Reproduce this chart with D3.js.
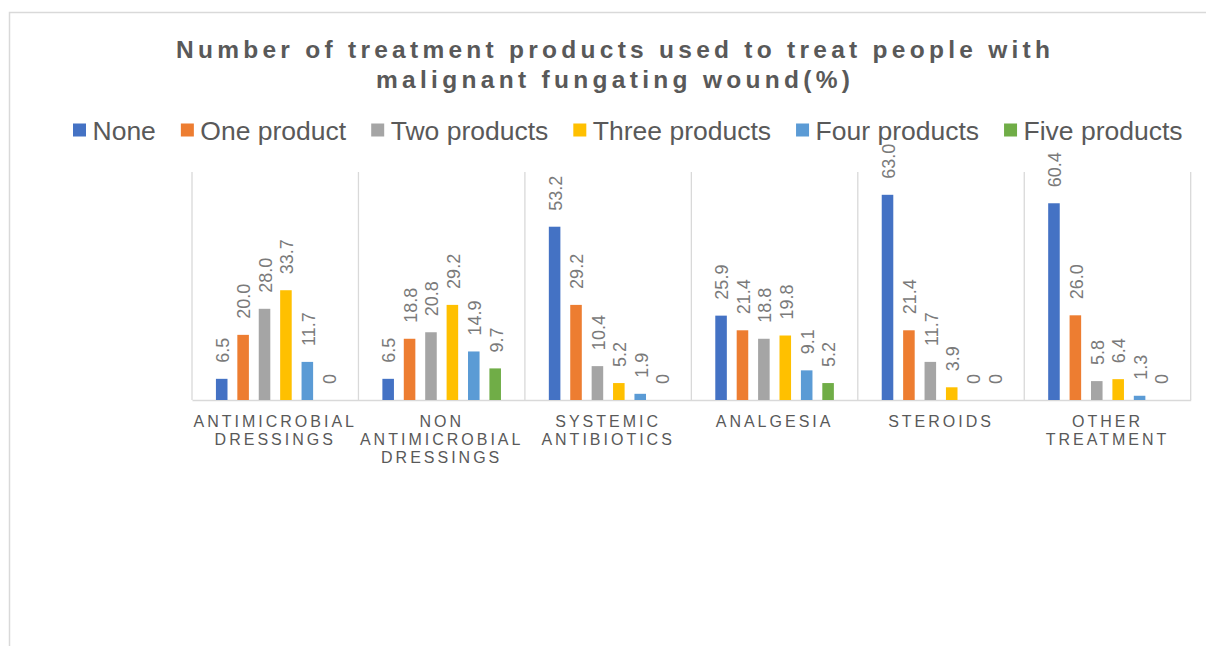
<!DOCTYPE html>
<html>
<head>
<meta charset="utf-8">
<script src="https://cdn.jsdelivr.net/npm/d3@7"></script>
<style>
  html, body { margin: 0; padding: 0; background: #ffffff; }
  svg { display: block; }
</style>
</head>
<body>
<svg id="chart" width="1206" height="646"></svg>
<script>
// ---------------- data ----------------
const titleLines = ["Number of treatment products used to treat people with", "malignant fungating wound(%)"];
const categories = ["ANTIMICROBIAL DRESSINGS", "NON ANTIMICROBIAL DRESSINGS", "SYSTEMIC ANTIBIOTICS", "ANALGESIA", "STEROIDS", "OTHER TREATMENT"];
const categoryLabelLines = [
  ["ANTIMICROBIAL", "DRESSINGS"],
  ["NON", "ANTIMICROBIAL", "DRESSINGS"],
  ["SYSTEMIC", "ANTIBIOTICS"],
  ["ANALGESIA"],
  ["STEROIDS"],
  ["OTHER", "TREATMENT"]
];
const seriesNames = ["None", "One product", "Two products", "Three products", "Four products", "Five products"];
const seriesColors = ["#4472C4", "#ED7D31", "#A5A5A5", "#FFC000", "#5B9BD5", "#70AD47"];
const noneValues  = [6.5, 6.5, 53.2, 25.9, 63.0, 60.4];
const oneValues   = [20.0, 18.8, 29.2, 21.4, 21.4, 26.0];
const twoValues   = [28.0, 20.8, 10.4, 18.8, 11.7, 5.8];
const threeValues = [33.7, 29.2, 5.2, 19.8, 3.9, 6.4];
const fourValues  = [11.7, 14.9, 1.9, 9.1, 0, 1.3];
const fiveValues  = [0, 9.7, 0, 5.2, 0, 0];
const yMax = 70;

const seriesValues = [noneValues, oneValues, twoValues, threeValues, fourValues, fiveValues];

// ---------------- layout ----------------
const svg = d3.select("#chart");
const plot = { left: 192, right: 1190.7, top: 172, bottom: 400 };
const grid = "#d9d9d9";
const FONT = "Liberation Sans, Arial, sans-serif";

svg.append("rect").attr("width", 1206).attr("height", 646).attr("fill", "#fff");

// chart area border (left & top visible)
svg.append("path")
  .attr("d", "M9.5,646 L9.5,12.5 L1206,12.5")
  .attr("fill", "none").attr("stroke", grid).attr("stroke-width", 1.5);

// title: each line spread to its measured span
const titleSpans = [{ y: 58, x0: 176, x1: 1050 }, { y: 88, x0: 376, x1: 850 }];
titleLines.forEach((t, i) => {
  const sp = titleSpans[i];
  const txt = svg.append("text")
    .attr("x", sp.x0).attr("y", sp.y)
    .attr("font-family", FONT)
    .attr("font-weight", "bold")
    .attr("font-size", 24.5)
    .attr("fill", "#595959")
    .text(t);
  const base = txt.node().getComputedTextLength();
  const ls = (sp.x1 - sp.x0 - base) / (t.length - 1);
  txt.attr("letter-spacing", ls);
});

// legend
let lx = 73;
seriesNames.forEach((name, i) => {
  svg.append("rect")
    .attr("x", lx).attr("y", 123.5).attr("width", 13).attr("height", 13)
    .attr("fill", seriesColors[i]);
  const t = svg.append("text")
    .attr("x", lx + 19.5).attr("y", 139.5)
    .attr("font-family", FONT)
    .attr("font-size", 26.5)
    .attr("fill", "#595959")
    .text(name);
  lx = lx + 19.5 + t.node().getComputedTextLength() + 25;
});

// scales
const x = d3.scaleBand().domain(categories).range([plot.left, plot.right]).padding(0);
const xInner = d3.scaleBand().domain(seriesNames).range([0, x.bandwidth()])
  .paddingInner(0.46).paddingOuter(1.118);
const y = d3.scaleLinear().domain([0, yMax]).range([plot.bottom, plot.top]);

// vertical gridlines at category boundaries
const bounds = categories.map(c => x(c)).concat([plot.right]);
svg.append("g").selectAll("line").data(bounds).join("line")
  .attr("x1", d => d).attr("x2", d => d)
  .attr("y1", y(yMax)).attr("y2", y(0))
  .attr("stroke", grid).attr("stroke-width", 1.3);

// baseline axis
const xAxis = d3.axisBottom(x).tickSize(0).tickFormat("");
const axG = svg.append("g").attr("transform", `translate(0,${y(0)})`).call(xAxis);
axG.select(".domain").attr("stroke", grid).attr("stroke-width", 1.5);

// category labels
categories.forEach((c, i) => {
  const cx = x(c) + x.bandwidth() / 2;
  const t = svg.append("text")
    .attr("text-anchor", "middle")
    .attr("font-family", FONT)
    .attr("font-size", 16)
    .attr("letter-spacing", 3)
    .attr("fill", "#595959");
  categoryLabelLines[i].forEach((ln, j) => {
    t.append("tspan").attr("x", cx).attr("y", 426.5 + j * 18.3).text(ln);
  });
});

// bars
const fmt = v => v === 0 ? "0" : v.toFixed(1);
seriesNames.forEach((s, si) => {
  const g = svg.append("g");
  const data = categories.map((c, ci) => ({ c, v: seriesValues[si][ci] }));
  g.selectAll("rect").data(data).join("rect")
    .attr("x", d => x(d.c) + xInner(s))
    .attr("y", d => y(d.v))
    .attr("width", xInner.bandwidth())
    .attr("height", d => y(0) - y(d.v))
    .attr("fill", seriesColors[si]);
  g.selectAll("text").data(data).join("text")
    .attr("transform", d => {
      const cx = x(d.c) + xInner(s) + xInner.bandwidth() / 2 + 1;
      const cy = y(d.v) - 16;
      return `translate(${cx},${cy}) rotate(-90)`;
    })
    .attr("dy", "0.35em")
    .attr("text-anchor", "start")
    .attr("font-family", FONT)
    .attr("font-size", 18)
    .attr("fill", "#7a7a7a")
    .text(d => fmt(d.v));
});
</script>
</body>
</html>
